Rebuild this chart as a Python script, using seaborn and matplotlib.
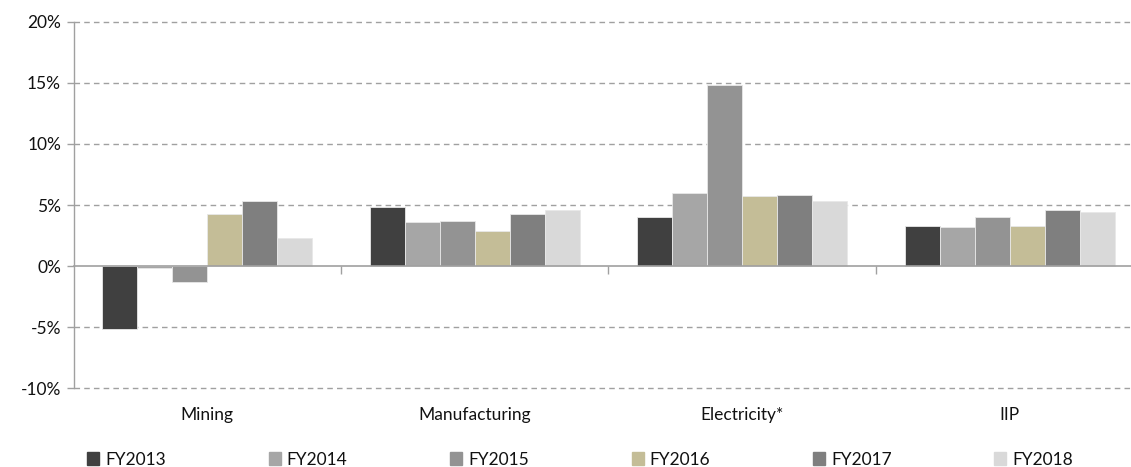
import matplotlib
matplotlib.use("Agg")
import matplotlib.pyplot as plt
import matplotlib.transforms as mtransforms
from matplotlib.ticker import FixedLocator, FuncFormatter
import pandas as pd
import seaborn as sns

# Year-on-year growth of industrial production by sector (%)
sectors = ["Mining", "Manufacturing", "Electricity*", "IIP"]
years = ["FY2013", "FY2014", "FY2015", "FY2016", "FY2017", "FY2018"]
fy2013 = [-5.2, 4.8, 4.0, 3.3]
fy2014 = [-0.2, 3.6, 6.0, 3.2]
fy2015 = [-1.3, 3.7, 14.8, 4.0]
fy2016 = [4.3, 2.9, 5.7, 3.3]
fy2017 = [5.3, 4.3, 5.8, 4.6]
fy2018 = [2.3, 4.6, 5.3, 4.4]
year_colors = ["#404040", "#A6A6A6", "#939393", "#C4BD97", "#7F7F7F", "#D9D9D9"]

series = [fy2013, fy2014, fy2015, fy2016, fy2017, fy2018]
df = pd.DataFrame(
    [(s, y, v) for y, vals in zip(years, series) for s, v in zip(sectors, vals)],
    columns=["sector", "year", "growth"],
)

sns.set_theme(style="white")
plt.rcParams["font.family"] = ["Lato", "DejaVu Sans"]

fig = plt.figure(figsize=(11.31, 4.67), dpi=100)
# plot area runs slightly past the right edge of the canvas
ax = fig.add_axes([0.065, 0.169, 0.946, 0.784])

sns.barplot(
    data=df, x="sector", y="growth", hue="year",
    order=sectors, hue_order=years, palette=year_colors,
    width=0.785, saturation=1, errorbar=None, ax=ax,
    edgecolor="#E8E8E8", linewidth=0.6,
)

grid_col = "#A0A0A0"
ax.set_ylim(-10, 20)
ax.set_xlim(-0.5, 3.5)
ax.yaxis.set_major_locator(FixedLocator([-10, -5, 0, 5, 10, 15, 20]))
ax.yaxis.set_major_formatter(FuncFormatter(lambda v, _: f"{v:.0f}%"))
for v in [-10, -5, 5, 10, 15, 20]:
    ax.axhline(v, color=grid_col, lw=1.0, ls=(0, (4, 3)), zorder=0, clip_on=False)

for side in ["top", "right"]:
    ax.spines[side].set_visible(False)
ax.spines["left"].set_color(grid_col)
ax.spines["left"].set_linewidth(1.0)
ax.spines["bottom"].set_position(("data", 0))
ax.spines["bottom"].set_color(grid_col)
ax.spines["bottom"].set_linewidth(1.2)

ax.tick_params(axis="y", which="major", direction="out", length=5, width=1,
               color=grid_col, labelsize=12.5, labelcolor="#111111", pad=4, left=True)
ax.set_xticks(range(len(sectors)))
ax.set_xticklabels([])
ax.tick_params(axis="x", which="major", length=0)
ax.set_xticks([0.5, 1.5, 2.5], minor=True)
ax.tick_params(axis="x", which="minor", direction="out", length=6, width=1,
               color=grid_col, bottom=True)
ax.set_xlabel("")
ax.set_ylabel("")

# Category names sit below the plot area
trans = mtransforms.blended_transform_factory(ax.transData, ax.transAxes)
for i, s in enumerate(sectors):
    ax.text(i, -0.074, s, transform=trans, ha="center", va="center",
            fontsize=12.5, color="#111111")

ax.get_legend().remove()
handles = [plt.Rectangle((0, 0), 1, 1, color=c) for c in year_colors]
fig.legend(
    handles, years, loc="center left", ncol=6, mode="expand",
    bbox_to_anchor=(0.077, 0.016, 0.872, 0.0), frameon=False,
    fontsize=12.5, labelcolor="#111111",
    handlelength=0.7, handleheight=0.7, handletextpad=0.35,
    borderpad=0, borderaxespad=0,
)

fig.savefig("out.png", dpi=100)
